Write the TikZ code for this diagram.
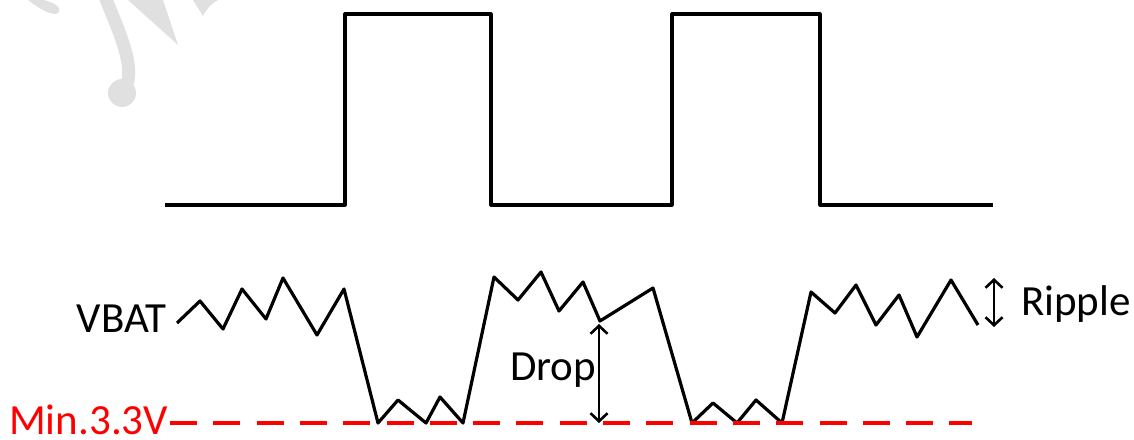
\documentclass[tikz,border=0pt]{standalone}
\usepackage{fontspec}
\setmainfont{Carlito}
\usetikzlibrary{arrows.meta}
\definecolor{limitRed}{HTML}{FF0000}
\definecolor{markGray}{HTML}{E0E0E0}

\begin{document}
\begin{tikzpicture}[
  x=1pt,y=-1pt,
  wave/.style={line width=3.2pt,line join=round,draw=black},
  arrow/.style={{Straight Barb[length=8pt,width=17pt]}-{Straight Barb[length=8pt,width=17pt]},line width=2.6pt,draw=black},
  lbl/.style={inner sep=0pt,font=\fontsize{43}{51}\selectfont},
  limit/.style={draw=limitRed,line width=4pt,dash pattern=on 27pt off 16.3pt},
  mark/.style={fill=markGray,draw=none}
]
\useasboundingbox (0,0) rectangle (1134,439);
% faint watermark
\fill[markGray] (28,0) .. controls (38,8) and (48,14) .. (56,14) .. controls (62,12) and (60,5) .. (50,2) -- (44,0) -- cycle;
\draw[markGray,line width=13pt] (104,-6) .. controls (118,30) and (134,62) .. (127,84);
\fill[markGray] (122,93) circle (14);
\fill[markGray] (128,0) -- (178,45) -- (163,0) -- cycle;
\fill[markGray] (193,0) -- (203,16) .. controls (207,8) and (212,3) .. (218,0) -- cycle;

% pulse train
\draw[wave] (165,205) -- (345,205) -- (345,14) -- (491,14) -- (491,205)
  -- (672,205) -- (672,14) -- (820,14) -- (820,205) -- (993,205);

% battery voltage
\draw[wave] (177,323) -- (200,301) -- (223,329) -- (242,289) -- (266,319)
  -- (283,278) -- (317,335) -- (344,289) -- (378,423) -- (398,400)
  -- (426,423) -- (440,397) -- (463,423) -- (494,277) -- (518,300)
  -- (541,272) -- (559,311) -- (583,282) -- (600,321) -- (653,288)
  -- (692,423) -- (713,403) -- (737,423) -- (756,400) -- (782,423)
  -- (811,292) -- (835,313) -- (856,285) -- (876,325) -- (899,295)
  -- (917,337) -- (951,280) -- (978,325);

% minimum level
\node[lbl,text=limitRed,anchor=base west] (minv) at (9,434) {Min.3.3V};
\coordinate (limA) at (170,423);
\coordinate (limB) at (972,423);
\draw[limit] (limA) -- (limB);

% labels
\node[lbl,anchor=base east] (vbat) at (167,332) {VBAT};
\node[lbl,anchor=base west] (drop) at (510,380) {Drop};
\node[lbl,anchor=base west] (ripple) at (1021,315) {Ripple};

% arrows
\coordinate (dropTop) at (599,324);
\coordinate (dropBot) at (599,423);
\draw[arrow] (dropTop) -- (dropBot);
\coordinate (ripTop) at (994,278);
\coordinate (ripBot) at (994,327);
\draw[arrow] (ripTop) -- (ripBot);
\end{tikzpicture}
\end{document}
